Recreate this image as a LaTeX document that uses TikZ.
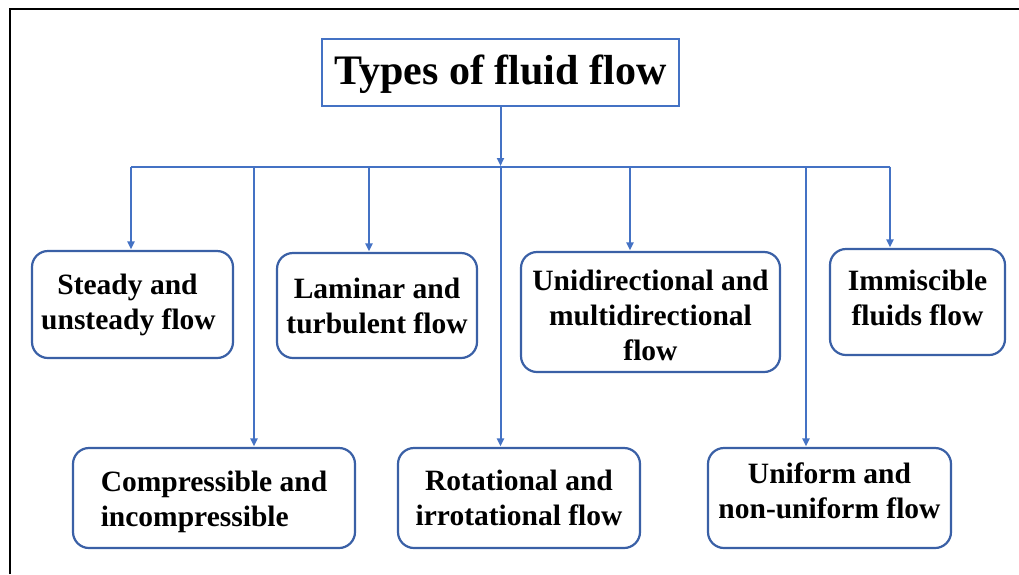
\documentclass[tikz,border=0pt]{standalone}
\usepackage{fontspec}
\setmainfont{Liberation Serif}
\usetikzlibrary{arrows.meta}
\definecolor{conn}{RGB}{68,114,196}
\definecolor{boxc}{RGB}{58,96,166}
\newcommand\lowerby[2]{\raisebox{-#1}[\height][\depth]{#2}}
\tikzset{
  box/.style={draw=boxc, line width=2.2pt, rounded corners=16pt, fill=white,
    inner sep=0pt, align=center, font=\fontsize{29.5}{35}\selectfont\bfseries},
  titlebox/.style={draw=conn, line width=2.2pt, inner sep=0pt,
    font=\fontsize{42}{48}\selectfont\bfseries},
  conline/.style={draw=conn, line width=2pt},
  arr/.style={conline, -{Triangle[length=8pt,width=7pt]}, shorten >=0.5pt}
}
\begin{document}
\begin{tikzpicture}[x=1pt,y=-1pt]
\useasboundingbox (0,0) rectangle (1019,574);
% frame
\draw[black, line width=2pt] (10,574) -- (10,8.5) -- (1019,8.5);
% title
\node[titlebox, minimum width=357pt, minimum height=67pt] (title) at (500.5,72.5) {\lowerby{2pt}{Types of fluid flow}};
% boxes
\node[box, minimum width=201pt, minimum height=107pt] (steady) at (132.5,304.5) {Steady and\hspace*{10pt}\\unsteady flow\hspace*{8pt}};
\node[box, minimum width=200pt, minimum height=105pt] (laminar) at (377,305.5) {Laminar and\\turbulent flow};
\node[box, minimum width=259pt, minimum height=120pt] (unidir) at (650.5,312) {\lowerby{3pt}{Unidirectional and}\\\lowerby{3pt}{multidirectional}\\\lowerby{3pt}{flow}};
\node[box, minimum width=175pt, minimum height=106pt] (immisc) at (917.5,302) {\lowerby{-4pt}{Immiscible}\\\lowerby{-4pt}{fluids flow}};
\node[box, minimum width=282pt, minimum height=100pt, align=left] (compr) at (214,498) {\lowerby{4pt}{Compressible and}\\\lowerby{4pt}{incompressible}};
\node[box, minimum width=242pt, minimum height=100pt] (rotat) at (519,498) {Rotational and\\irrotational flow};
\node[box, minimum width=243pt, minimum height=100pt] (unif) at (829.5,498) {\lowerby{-7pt}{Uniform and}\\\lowerby{-7pt}{non-uniform flow}};
% bus
\coordinate (b1) at (131,166.5);
\coordinate (b2) at (254,166.5);
\coordinate (b3) at (369,166.5);
\coordinate (b4) at (500.5,166.5);
\coordinate (b5) at (630,166.5);
\coordinate (b6) at (806,166.5);
\coordinate (b7) at (890,166.5);
\draw[conline] (b1) -- (b7);
\draw[arr] (title.south) -- (b4);
\draw[arr] (b1) -- (b1 |- steady.north);
\draw[arr] (b2) -- (b2 |- compr.north);
\draw[arr] (b3) -- (b3 |- laminar.north);
\draw[arr] (b4) -- (b4 |- rotat.north);
\draw[arr] (b5) -- (b5 |- unidir.north);
\draw[arr] (b6) -- (b6 |- unif.north);
\draw[arr] (b7) -- (b7 |- immisc.north);
\end{tikzpicture}
\end{document}
